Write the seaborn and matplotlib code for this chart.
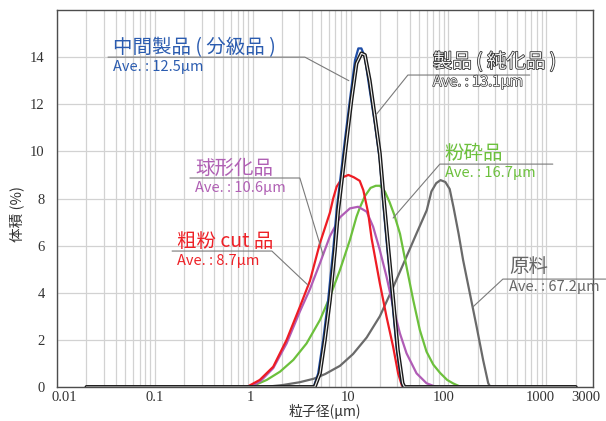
import matplotlib
matplotlib.use("Agg")
import matplotlib.pyplot as plt
import matplotlib.patheffects as pe
import matplotlib.transforms as mtransforms
from matplotlib.ticker import LogLocator, NullFormatter
import numpy as np
import pandas as pd
import seaborn as sns

# ---- data (particle size um, volume %) ----
raw_x = [0.02, 1.3, 2.0, 3.0, 4.2, 5.5, 7.8, 10.6, 14.6, 19.9, 27, 37, 47, 60, 67, 75,
         83, 93, 103, 113, 127, 141, 165, 194, 226, 255, 268, 2000]
raw_y = [0, 0, 0.08, 0.2, 0.35, 0.55, 0.9, 1.4, 2.1, 3.0, 4.2, 5.5, 6.5, 7.5, 8.3, 8.65,
         8.78, 8.7, 8.4, 7.6, 6.5, 5.4, 4.0, 2.56, 1.15, 0.16, 0, 0]

pulv_x = [0.02, 0.9, 1.01, 1.39, 1.9, 2.6, 3.55, 4.86, 6.15, 7.78, 9.84, 11.5, 12.4, 14.0,
          16.0, 18.1, 20.0, 22.4, 25.0, 28.0, 32.0, 37.3, 43.6, 51, 59.7, 70, 82, 97, 112,
          128, 140, 2000]
pulv_y = [0, 0, 0.05, 0.3, 0.65, 1.15, 1.85, 2.84, 3.83, 4.96, 6.24, 7.23, 7.6, 8.1,
          8.45, 8.54, 8.54, 8.3, 7.85, 7.3, 6.5, 5.1, 3.7, 2.42, 1.5, 0.95, 0.6, 0.3, 0.15,
          0.04, 0, 0]

sphere_x = [0.02, 0.95, 1.2, 1.62, 2.22, 3.03, 3.84, 4.86, 6.15, 7.78, 9.84, 11.95, 14.6,
            17.0, 19.9, 23.3, 27.2, 31.9, 37.3, 47.2, 59.7, 69.8, 76, 2000]
sphere_y = [0, 0, 0.25, 0.8, 1.85, 3.2, 4.15, 5.25, 6.4, 7.2, 7.58, 7.65, 7.44,
            6.8, 5.81, 4.68, 3.41, 2.28, 1.43, 0.58, 0.16, 0.05, 0, 0]

coarse_x = [0.02, 0.87, 1.18, 1.62, 2.22, 3.03, 3.84, 4.86, 6.15, 6.64, 7.2, 8.3, 9.5, 10.8,
            12.4, 13.5, 15.1, 16.4, 19.9, 23.3, 27.2, 30.6, 33.5, 36, 2000]
coarse_y = [0, 0, 0.3, 0.86, 2.0, 3.4, 4.5, 6.1, 7.4, 8.0, 8.5, 8.9, 9.0, 8.9,
            8.75, 8.35, 7.4, 6.3, 4.4, 2.98, 1.71, 0.58, 0.05, 0, 0]

inter_x = [0.02, 4.2, 4.67, 5.25, 5.9, 6.64, 7.2, 8.75, 9.84, 11.1, 12.0, 12.9, 14.0, 15.7,
           17.7, 19.9, 21.4, 23.8, 26.6, 29.7, 33.1, 34.5, 2000]
inter_y = [0, 0, 0.58, 2.0, 3.69, 5.81, 7.5, 10.48, 12.18, 13.87, 14.37, 14.37, 14.0, 12.6,
           11.19, 9.63, 7.93, 5.81, 3.69, 1.57, 0.22, 0, 0]

prod_x = [0.02, 4.3, 4.86, 5.46, 6.15, 6.92, 7.47, 9.1, 10.2, 11.5, 12.9, 14.0, 15.7, 17.7,
          19.9, 21.9, 24.4, 27.3, 30.4, 34.0, 35.5, 2000]
prod_y = [0, 0, 0.58, 2.0, 3.69, 5.81, 7.5, 10.48, 12.18, 13.73, 14.16, 14.09, 13.0, 11.47,
          9.91, 7.93, 5.81, 3.69, 1.57, 0.16, 0, 0]

x_ticks = [0.01, 0.1, 1, 10, 100, 1000, 3000]
x_tick_labels = ["0.01", "0.1", "1", "10", "100", "1000", "3000"]
y_ticks = [0, 2, 4, 6, 8, 10, 12, 14]

sns.set_style("white")
plt.rcParams["font.family"] = ["Liberation Serif", "Noto Sans CJK JP"]
CJK = ["Noto Sans CJK JP", "DejaVu Sans"]

fig = plt.figure(figsize=(6.06, 4.21), dpi=100)
ax = fig.add_axes([57 / 606, 34 / 421, 536 / 606, 377 / 421])
ax.set_xscale("log")

series = [
    ("原料", raw_x, raw_y, "#6a6a6a"),
    ("粉砕品", pulv_x, pulv_y, "#6cc03c"),
    ("球形化品", sphere_x, sphere_y, "#b05cb6"),
    ("粗粉cut品", coarse_x, coarse_y, "#ee1c24"),
    ("中間製品", inter_x, inter_y, "#1f4ea8"),
]
for name, xs, ys, color in series:
    df = pd.DataFrame({"size": xs, "vol": ys})
    sns.lineplot(data=df, x="size", y="vol", color=color, lw=1.6, ax=ax,
                 estimator=None, sort=False, solid_joinstyle="round")

# 製品 : outlined (double) black line
df = pd.DataFrame({"size": prod_x, "vol": prod_y})
sns.lineplot(data=df, x="size", y="vol", color="#f0f0f0", lw=0.8, ax=ax,
             estimator=None, sort=False, solid_joinstyle="round")
ax.lines[-1].set_path_effects([pe.Stroke(linewidth=2.8, foreground="#1a1a1a",
                                         joinstyle="round"), pe.Normal()])

ax.set_xlim(0.01, 3000)
ax.set_ylim(0, 16)
ax.set_xticks(x_ticks)
ax.set_xticklabels(x_tick_labels)
ax.xaxis.set_minor_locator(LogLocator(base=10, subs=np.arange(2, 10)))
ax.xaxis.set_minor_formatter(NullFormatter())
ax.set_yticks(y_ticks)

ax.grid(which="both", axis="x", color="#d2d2d2", lw=0.9)
ax.grid(which="major", axis="y", color="#d2d2d2", lw=0.9)
ax.set_axisbelow(True)

ax.tick_params(axis="both", which="both", length=0, labelsize=10.5, colors="#333333")
ax.tick_params(axis="y", pad=9)
ax.tick_params(axis="x", pad=3)
for sp in ax.spines.values():
    sp.set_visible(True)
    sp.set_color("#4d4d4d")
    sp.set_linewidth(1.0)

offs = [7, 0, -2, -3, -5, -6, -7]
for lab, dx in zip(ax.get_xticklabels(), offs):
    lab.set_transform(lab.get_transform() +
                      mtransforms.ScaledTranslation(dx / 100, 0, fig.dpi_scale_trans))

ax.set_xlabel("粒子径(μm)", fontsize=10, family=CJK, color="#333333")
ax.xaxis.set_label_coords(0.5, -0.046)
ax.set_ylabel("体積 (%)", fontsize=10.5, family=CJK, color="#333333")
ax.yaxis.set_label_coords(-0.062, 0.46)

# ---- labels with leader lines ----
notes = [
    dict(title="中間製品 ( 分級品 )", ave="Ave. : 12.5μm", color="#2b5cb0",
         tx=0.0373, ty=14.42, ay=13.58,
         path=[(0.0332, 14.0), (3.41, 14.0), (9.6, 13.0)]),
    dict(title="製品 ( 純化品 )", ave="Ave. : 13.1μm", color="#f4f4f4",
         tx=69.3, ty=13.79, ay=12.94,
         path=[(678, 13.24), (38.5, 13.24), (18.1, 11.54)], outline=True),
    dict(title="粉砕品", ave="Ave. : 16.7μm", color="#6cc03c",
         tx=91.9, ty=9.93, ay=9.08,
         path=[(1165, 9.46), (81.7, 9.46), (27.2, 7.17)]),
    dict(title="球形化品", ave="Ave. : 10.6μm", color="#b060b4",
         tx=0.257, ty=9.29, ay=8.44,
         path=[(0.228, 8.87), (3.03, 8.87), (5.25, 5.6)]),
    dict(title="粗粉 cut 品", ave="Ave. : 8.7μm", color="#ee2228",
         tx=0.168, ty=6.19, ay=5.35,
         path=[(0.150, 5.77), (1.57, 5.77), (3.66, 4.33)]),
    dict(title="原料", ave="Ave. : 67.2μm", color="#666666",
         tx=414, ty=5.13, ay=4.24,
         path=[(4050, 4.58), (360, 4.58), (177, 3.39)]),
]
for n in notes:
    px, py = zip(*n["path"])
    ax.plot(px, py, color="#7a7a7a", lw=0.8, clip_on=False, zorder=4)
    effects = [pe.withStroke(linewidth=1.1, foreground="#2a2a2a")] if n.get("outline") else None
    effects2 = [pe.withStroke(linewidth=0.9, foreground="#2a2a2a")] if n.get("outline") else None
    ax.text(n["tx"], n["ty"], n["title"], color=n["color"], fontsize=14, family=CJK,
            ha="left", va="center", zorder=6, clip_on=False, path_effects=effects)
    ax.text(n["tx"], n["ay"], n["ave"], color=n["color"], fontsize=10.5, family=CJK,
            ha="left", va="center", zorder=6, clip_on=False, path_effects=effects2)

fig.savefig("out.png", dpi=100)
